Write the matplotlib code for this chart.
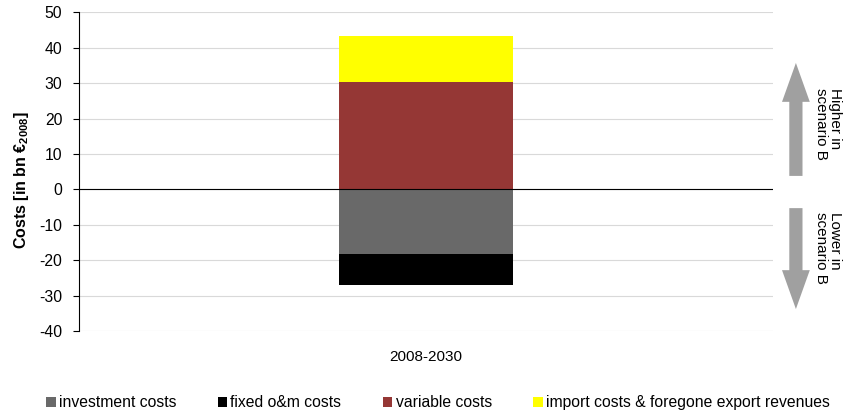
import numpy as np
import matplotlib.pyplot as plt
from matplotlib.patches import FancyArrowPatch
from matplotlib.transforms import blended_transform_factory

plt.rcParams['font.family'] = ['Liberation Sans', 'DejaVu Sans']
plt.rcParams['mathtext.fontset'] = 'custom'
plt.rcParams['mathtext.rm'] = 'Liberation Sans'
plt.rcParams['mathtext.bf'] = 'Liberation Sans:bold'
plt.rcParams['axes.unicode_minus'] = False

# data (bn EUR 2008)
period = ['2008-2030']
investment = [-18.3]
fixed_om = [-8.6]
variable = [30.2]
imports = [13.2]
series_names = ['investment costs', 'fixed o&m costs', 'variable costs',
                'import costs & foregone export revenues']
colors = ['#696969', '#000000', '#953735', '#ffff00']
yticks = list(range(-40, 60, 10))

fig = plt.figure(figsize=(8.48, 4.12), dpi=100)
ax = fig.add_axes([79 / 848, 0.1966, 694 / 848, 0.7735])

x = np.arange(len(period))
w = 0.25
ax.bar(x, investment, w, color=colors[0], label=series_names[0], zorder=2)
ax.bar(x, fixed_om, w, bottom=investment, color=colors[1], label=series_names[1], zorder=2)
ax.bar(x, variable, w, color=colors[2], label=series_names[2], zorder=2)
ax.bar(x, imports, w, bottom=variable, color=colors[3], label=series_names[3], zorder=2)

ax.set_xlim(-0.5, 0.5)
ax.set_ylim(-40, 50)
ax.set_yticks(yticks)
ax.set_xticks(x)
ax.set_xticklabels(period, fontsize=11)
ax.tick_params(axis='x', length=0, pad=14)
ax.tick_params(axis='y', labelsize=11.3, length=4, direction='out', width=0.8, pad=8)
ax.yaxis.grid(True, color='#d9d9d9', linewidth=0.8, zorder=0)
ax.set_axisbelow(True)
ax.axhline(0, color='black', linewidth=0.8, zorder=3)
for s in ['top', 'right', 'bottom']:
    ax.spines[s].set_visible(False)
ax.spines['left'].set_linewidth(0.8)
ax.set_ylabel(r'Costs [in bn €$_{\mathbf{2008}}$]', fontsize=11.5,
              fontweight='bold')
ax.yaxis.set_label_coords(-0.069, 0.475)

# arrows on the right
tr = blended_transform_factory(ax.transAxes, ax.transData)
arrow_style = 'simple,head_length=28,head_width=20,tail_width=9.5'
for y0, y1 in [(3.8, 35.7), (-5.3, -33.8)]:
    ar = FancyArrowPatch((1.033, y0), (1.033, y1), transform=tr,
                         arrowstyle=arrow_style, mutation_scale=1,
                         shrinkA=0, shrinkB=0, color='#a0a0a0',
                         clip_on=False, lw=0)
    ax.add_patch(ar)

ax.text(1.079, 28.6, 'Higher in\nscenario B', transform=tr, rotation=-90,
        ha='center', va='top', multialignment='left', fontsize=11,
        linespacing=1.0)
ax.text(1.079, -6.4, 'Lower in\nscenario B', transform=tr, rotation=-90,
        ha='center', va='top', multialignment='left', fontsize=11,
        linespacing=1.0)

fig.legend(loc='lower center', bbox_to_anchor=(0.5165, -0.03), ncol=4,
           frameon=False, fontsize=11.3, handlelength=0.6, handleheight=0.6,
           handletextpad=0.2, columnspacing=2.65)

fig.savefig('out.png', dpi=100)
